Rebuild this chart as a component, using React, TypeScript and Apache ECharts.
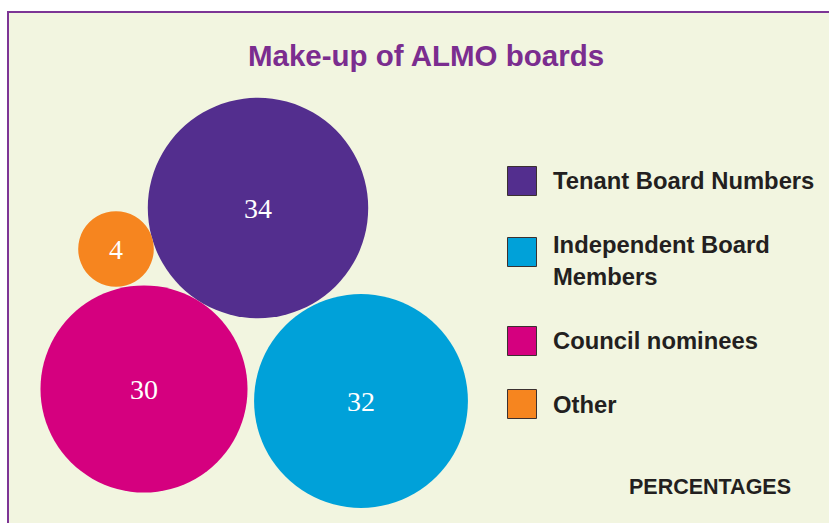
import React, { useEffect, useRef } from "react";
import * as echarts from "echarts";

// ---- data ----
const categories = ["Tenant Board Numbers", "Independent Board Members", "Council nominees", "Other"];
const values = [34, 32, 30, 4];
const legendLines = [["Tenant Board Numbers"], ["Independent Board", "Members"], ["Council nominees"], ["Other"]];
const titleText = "Make-up of ALMO boards";
const unitLabel = "PERCENTAGES";

// ---- styles / layout ----
const W = 829;
const H = 523;
const colors = ["#532e8e", "#00a1d9", "#d5007f", "#f6851f"];
const bgColor = "#f2f5e0";
const frameColor = "#7d3595";
const titleColor = "#7b2d8f";
const textColor = "#231f20";
const bubbleX = [258, 361, 144, 116];
const bubbleY = [208, 401, 389, 249];
const radiusPerSqrt = 18.9;
const legendBoxY = [166, 237, 326, 389];
const legendTextY = [[180.5], [244.5, 276.5], [340], [404]];

export default function App() {
  const ref = useRef<HTMLDivElement>(null);
  useEffect(() => {
    if (!ref.current) return;
    const chart = echarts.init(ref.current, null, { renderer: "svg" });
    const series = categories.map((name, i) => ({
      type: "scatter",
      name,
      data: [[bubbleX[i], bubbleY[i], values[i]]],
      symbol: "circle",
      symbolSize: (val: number[]) => 2 * radiusPerSqrt * Math.sqrt(val[2]),
      itemStyle: { color: colors[i], opacity: 1 },
      label: {
        show: true,
        position: "inside",
        offset: [0, 0],
        formatter: (p: any) => String(p.value[2]),
        color: "#ffffff",
        fontFamily: "Liberation Serif",
        fontSize: 28,
      },
      emphasis: { disabled: true },
      z: 2,
    }));

    const graphic: any[] = [
      {
        type: "rect",
        z: -10,
        shape: { x: 8, y: 12, width: W + 20, height: H + 20 },
        style: { fill: bgColor, stroke: frameColor, lineWidth: 2 },
        silent: true,
      },
      {
        type: "text",
        x: 426,
        y: 55,
        style: {
          text: titleText,
          fill: titleColor,
          font: "bold 29.5px 'Liberation Sans', Arial, sans-serif",
          textAlign: "center",
          textVerticalAlign: "middle",
        },
      },
      {
        type: "text",
        x: 710,
        y: 487,
        style: {
          text: unitLabel,
          fill: textColor,
          font: "bold 21.5px 'Liberation Sans', Arial, sans-serif",
          textAlign: "center",
          textVerticalAlign: "middle",
        },
      },
    ];
    categories.forEach((_, i) => {
      graphic.push({
        type: "rect",
        shape: { x: 507.5, y: legendBoxY[i] + 0.5, width: 29, height: 29 },
        style: { fill: colors[i], stroke: "#3b3030", lineWidth: 1 },
      });
      legendLines[i].forEach((line, j) => {
        graphic.push({
          type: "text",
          x: 553,
          y: legendTextY[i][j],
          style: {
            text: line,
            fill: textColor,
            font: "bold 23.8px 'Liberation Sans', Arial, sans-serif",
            textAlign: "left",
            textVerticalAlign: "middle",
          },
        });
      });
    });

    chart.setOption({
      animation: false,
      backgroundColor: "#ffffff",
      grid: { left: 0, top: 0, right: 0, bottom: 0 },
      xAxis: { type: "value", min: 0, max: W, show: false },
      yAxis: { type: "value", min: 0, max: H, inverse: true, show: false },
      tooltip: { show: false },
      series,
      graphic,
    });
    return () => chart.dispose();
  }, []);
  return (
    <div
      ref={ref}
      style={{ position: "absolute", left: 0, top: 0, width: W, height: H }}
    />
  );
}
